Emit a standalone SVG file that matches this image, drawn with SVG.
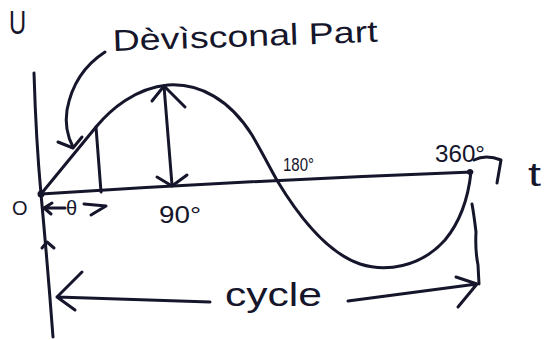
<svg xmlns="http://www.w3.org/2000/svg" width="555" height="340" viewBox="0 0 555 340">
<style>
.s{fill:none;stroke:#15152b;stroke-width:3;stroke-linecap:round;stroke-linejoin:round}
.t{fill:#15152b;font-family:"Liberation Sans","DejaVu Sans",sans-serif}
</style>
<rect width="555" height="340" fill="#ffffff"/>
<g id="corner-mark"><text class="t" x="0" y="34" font-size="34" transform="translate(9,0) scale(0.7,1)">U</text></g>
<g id="axes">
<path class="s" d="M34,73 Q36,140 41,194 Q48,270 53,337"/>
<path class="s" d="M41,194 Q260,180 472,172"/>
<path class="s" d="M42,248 L47,242 L54,248"/>
<path class="s" d="M474,160 Q486,154 501,160 L497,183"/>
<circle cx="41" cy="194" r="3.5" fill="#15152b"/>
<circle cx="470" cy="172" r="3" fill="#15152b"/>
</g>
<g id="wave">
<path class="s" d="M41,194 L96,127 C110,110 135,88 168,85 C200,83 230,100 252,135 C262,152 270,168 278,182 C295,210 325,252 360,264 C385,272 420,268 445,240 C460,222 468,200 471,172"/>
<path class="s" d="M96,127 L101,192"/>
</g>
<g id="connectors">
<path class="s" d="M164,86 L172,185"/>
<path class="s" d="M152,101 L164,86 L185,107"/>
<path class="s" d="M157,177 L172,186 L187,175"/>
<path class="s" d="M105,52 Q74,72 67,110 Q64,130 73,147"/>
<path class="s" d="M58,142 L73,148 L82,137"/>
<path class="s" d="M44,208 L52,203 M44,208 L51,214 M48,208 L65,208"/>
<path class="s" d="M84,204 L106,206 L91,215"/>
<path class="s" d="M57,297 L210,302 M82,272 L57,297 L75,310"/>
<path class="s" d="M348,301 L477,284 M456,277 L477,284 L458,307"/>
<path class="s" stroke-width="2" d="M472,204 Q474,215 476,232 Q475,250 478,265 L479,284"/>
</g>
<g id="labels">
<text class="t" x="113" y="51" font-size="30" textLength="265" lengthAdjust="spacingAndGlyphs" transform="rotate(-2 113 51)">Dèvìsconal Part</text>
<text class="t" x="12" y="215" font-size="20">O</text>
<text class="t" x="66" y="215" font-size="20">θ</text>
<text class="t" x="159" y="223" font-size="23" textLength="42" lengthAdjust="spacingAndGlyphs">90°</text>
<text class="t" x="283" y="171" font-size="18" textLength="31" lengthAdjust="spacingAndGlyphs">180°</text>
<text class="t" x="435" y="162" font-size="24" textLength="50" lengthAdjust="spacingAndGlyphs">360°</text>
<text class="t" x="528" y="186" font-size="34" textLength="13" lengthAdjust="spacingAndGlyphs">t</text>
<text class="t" x="225" y="306" font-size="33" textLength="97" lengthAdjust="spacingAndGlyphs">cycle</text>
</g>
</svg>
